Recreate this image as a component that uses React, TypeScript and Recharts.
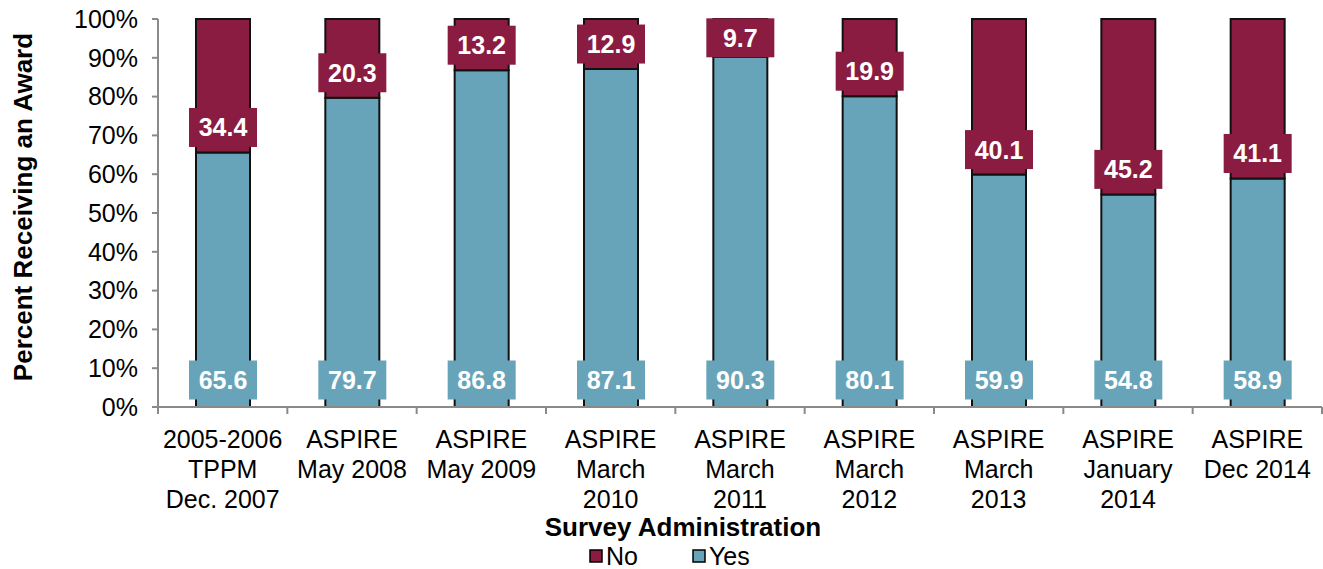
import React from 'react';
import { BarChart, Bar, XAxis, YAxis, LabelList } from 'recharts';

const CATEGORIES = [
  '2005-2006\nTPPM\nDec. 2007',
  'ASPIRE\nMay 2008',
  'ASPIRE\nMay 2009',
  'ASPIRE\nMarch\n2010',
  'ASPIRE\nMarch\n2011',
  'ASPIRE\nMarch\n2012',
  'ASPIRE\nMarch\n2013',
  'ASPIRE\nJanuary\n2014',
  'ASPIRE\nDec 2014',
];
const YES = [65.6, 79.7, 86.8, 87.1, 90.3, 80.1, 59.9, 54.8, 58.9];
const NO = [34.4, 20.3, 13.2, 12.9, 9.7, 19.9, 40.1, 45.2, 41.1];
const Y_TICKS = [0, 10, 20, 30, 40, 50, 60, 70, 80, 90, 100];

const NO_COLOR = '#8B1C41';
const YES_COLOR = '#68A4B9';
const AXIS_COLOR = '#8A8A8A';
const FONT = '"Liberation Sans", Arial, sans-serif';

const LEGEND = [
  { name: 'No', color: NO_COLOR },
  { name: 'Yes', color: YES_COLOR },
];

const data = CATEGORIES.map((name, i) => ({ name, yes: YES[i], no: NO[i] }));

const XTick = (props: any) => {
  const { x, y, payload, index, width } = props;
  const step = width / CATEGORIES.length;
  const lines = String(payload.value).split('\n');
  const left = x - step / 2;
  return (
    <g>
      <line x1={left} y1={y - 7} x2={left} y2={y} stroke={AXIS_COLOR} strokeWidth={2} />
      {index === CATEGORIES.length - 1 && (
        <line x1={x + step / 2} y1={y - 7} x2={x + step / 2} y2={y} stroke={AXIS_COLOR} strokeWidth={2} />
      )}
      <text textAnchor="middle" fontSize={25} fill="#000" fontFamily={FONT}>
        {lines.map((l, k) => (
          <tspan key={k} x={x} y={y + 34 + k * 30}>
            {l}
          </tspan>
        ))}
      </text>
    </g>
  );
};

const boxLabel = (color: string, kind: 'yes' | 'no') => (props: any) => {
  const { x, y, width, height, value } = props;
  const cx = x + width / 2;
  let cy: number;
  if (kind === 'yes') {
    cy = y + height - 27;
  } else {
    cy = Math.max(y + height - 25, y + height / 2);
  }
  return (
    <g>
      <rect x={cx - 34} y={cy - 19.5} width={68} height={39} fill={color} />
      <text
        x={cx}
        y={cy}
        dy="0.36em"
        textAnchor="middle"
        fontSize={25}
        fontWeight="bold"
        fill="#fff"
        fontFamily={FONT}
      >
        {Number(value).toFixed(1)}
      </text>
    </g>
  );
};

export default function App() {
  return (
    <div style={{ position: 'absolute', left: 0, top: 0, width: 1323, height: 569, fontFamily: FONT, background: '#fff' }}>
      <BarChart
        width={1323}
        height={569}
        data={data}
        margin={{ top: 19, right: 1, bottom: 0, left: 0 }}
        barSize={54}
      >
        <YAxis
          width={158}
          domain={[0, 100]}
          ticks={Y_TICKS}
          interval={0}
          tickFormatter={(v: number) => `${v}%`}
          tick={{ fontSize: 25, fill: '#000', fontFamily: FONT }}
          tickSize={6}
          tickMargin={14}
          axisLine={{ stroke: AXIS_COLOR, strokeWidth: 2 }}
          tickLine={{ stroke: AXIS_COLOR, strokeWidth: 2 }}
          label={{
            content: () => (
              <text
                transform="translate(32,207) rotate(-90)"
                textAnchor="middle"
                fontSize={26}
                fontWeight="bold"
                fill="#000"
                fontFamily={FONT}
              >
                Percent Receiving an Award
              </text>
            ),
          }}
        />
        <XAxis
          dataKey="name"
          height={162}
          interval={0}
          tickSize={7}
          tickMargin={0}
          tickLine={false}
          axisLine={{ stroke: AXIS_COLOR, strokeWidth: 2 }}
          tick={<XTick />}
          label={{
            content: () => (
              <text x={683} y={536} textAnchor="middle" fontSize={26} fontWeight="bold" fill="#000" fontFamily={FONT}>
                Survey Administration
              </text>
            ),
          }}
        />
        <Bar dataKey="yes" name="Yes" stackId="a" fill={YES_COLOR} stroke="#111" strokeWidth={2} isAnimationActive={false}>
          <LabelList dataKey="yes" content={boxLabel(YES_COLOR, 'yes')} />
        </Bar>
        <Bar dataKey="no" name="No" stackId="a" fill={NO_COLOR} stroke="#111" strokeWidth={2} isAnimationActive={false}>
          <LabelList dataKey="no" content={boxLabel(NO_COLOR, 'no')} />
        </Bar>
      </BarChart>
      <div
        style={{
          position: 'absolute',
          left: 589,
          top: 542,
          display: 'flex',
          alignItems: 'center',
          fontSize: 25,
          lineHeight: '28px',
        }}
      >
        {LEGEND.map((it) => (
          <div key={it.name} style={{ display: 'flex', alignItems: 'center', marginRight: 54 }}>
            <svg width={14} height={14} style={{ marginRight: 3 }}>
              <rect x={1} y={1} width={12} height={12} fill={it.color} stroke="#000" strokeWidth={1.5} />
            </svg>
            <span>{it.name}</span>
          </div>
        ))}
      </div>
    </div>
  );
}
